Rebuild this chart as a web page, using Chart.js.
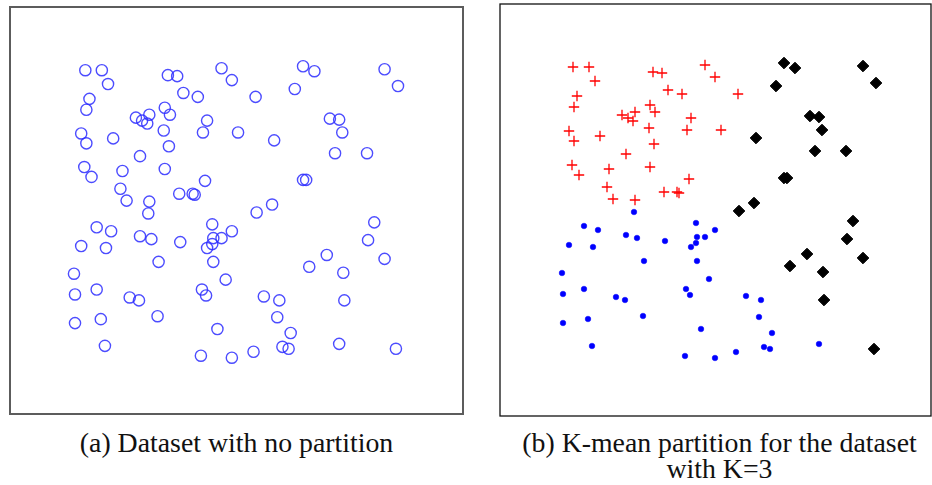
<!DOCTYPE html>
<html>
<head>
<meta charset="utf-8">
<script src="https://cdn.jsdelivr.net/npm/chart.js@4.4.1/dist/chart.umd.min.js"></script>
<style>
  html, body { margin: 0; padding: 0; background: #fff; }
  body { width: 932px; height: 485px; position: relative; overflow: hidden; }
  canvas { position: absolute; }
  .cap { position: absolute; font-family: "Liberation Serif", "DejaVu Serif", serif; font-size: 27.8px; color: #111; white-space: nowrap; text-align: center; line-height: 26px; }
</style>
</head>
<body>
<canvas id="plainChart" width="458" height="412" style="left:8px; top:5px;"></canvas>
<canvas id="kmeansChart" width="434" height="415" style="left:498px; top:2px;"></canvas>
<div class="cap" id="capA" style="left:10px; width:453px; top:430px;">(a) Dataset with no partition</div>
<div class="cap" id="capB" style="left:504px; width:431px; top:430px;">(b) K-mean partition for the dataset<br>with K=3</div>
<script>
// Cluster 1 (red crosses): upper-left group
const clusterRedX = [73, 89, 95, 153, 162, 205, 215, 77, 74, 168, 182, 150, 155, 135, 122, 128, 133, 191, 69, 74, 100, 149, 187, 221, 154, 126, 72, 79, 109, 150, 189, 107, 113, 135, 164, 177, 179, 238];
const clusterRedY = [349, 349, 335, 344, 343, 351, 339, 320, 309, 326, 322, 311, 304, 304, 301, 298, 295, 298, 285, 275, 280, 288, 286, 286, 272, 262, 251, 241, 247, 249, 237, 229, 217, 216, 224, 224, 223, 322];

// Cluster 2 (black diamonds): right-hand group
const clusterBlackX = [284, 295, 363, 376, 276, 310, 319, 322, 256, 315, 346, 284, 287, 254, 239, 353, 347, 307, 363, 290, 323, 324, 374];
const clusterBlackY = [353, 348, 350, 333, 330, 300, 299, 286, 278, 265, 265, 238, 238, 213, 205, 195, 177, 162, 158, 150, 144, 116, 67];

// Cluster 3 (blue dots): lower-left group
const clusterBlueX = [246, 261, 259, 272, 264, 270, 236, 319, 134, 84, 98, 126, 137, 165, 196, 215, 197, 205, 196, 191, 69, 93, 144, 197, 62, 209, 84, 63, 186, 190, 116, 125, 143, 63, 88, 201, 92, 185, 215];
const clusterBlueY = [120, 116, 99, 83, 69, 67, 64, 72, 204, 190, 186, 181, 178, 175, 193, 186, 179, 179, 173, 169, 171, 169, 155, 155, 143, 137, 127, 122, 127, 121, 119, 116, 100, 93, 97, 87, 70, 60, 58];

// Axis extents of the two panels
const plainRangeX = [0, 439];
const plainRangeY = [1, 413];
const kmeansRangeX = [0, 431];
const kmeansRangeY = [0, 412];

const toPoints = (xs, ys) => xs.map((x, i) => ({ x: x, y: ys[i] }));

const redPts = toPoints(clusterRedX, clusterRedY);
const blackPts = toPoints(clusterBlackX, clusterBlackY);
const bluePts = toPoints(clusterBlueX, clusterBlueY);
const allPts = redPts.concat(blackPts, bluePts);

// Draws the rectangular frame round the plotting area
function framePlugin(color, width) {
  return {
    id: 'frame',
    afterDraw(chart) {
      const a = chart.chartArea;
      const ctx = chart.ctx;
      ctx.save();
      ctx.strokeStyle = color;
      ctx.lineWidth = width;
      ctx.strokeRect(a.left, a.top, a.right - a.left, a.bottom - a.top);
      ctx.restore();
    }
  };
}

function baseOptions(rx, ry, pad) {
  return {
    responsive: false,
    animation: false,
    devicePixelRatio: 1,
    layout: { padding: pad, autoPadding: false },
    plugins: { legend: { display: false }, tooltip: { enabled: false } },
    scales: {
      x: { type: 'linear', display: false, min: rx[0], max: rx[1] },
      y: { type: 'linear', display: false, min: ry[0], max: ry[1] }
    }
  };
}

new Chart(document.getElementById('plainChart'), {
  type: 'scatter',
  data: {
    datasets: [{
      data: allPts,
      pointStyle: 'circle',
      pointRadius: 5.6,
      pointBorderWidth: 1.4,
      pointBorderColor: 'rgba(45,45,255,0.85)',
      pointBackgroundColor: 'rgba(0,0,0,0)'
    }]
  },
  options: baseOptions(plainRangeX, plainRangeY, { left: 2, right: 3, top: 2, bottom: 3 }),
  plugins: [framePlugin('#5c5c5c', 2)]
});

new Chart(document.getElementById('kmeansChart'), {
  type: 'scatter',
  data: {
    datasets: [
      {
        data: redPts,
        pointStyle: 'cross',
        pointRadius: 5.2,
        pointBorderWidth: 1.3,
        pointBorderColor: '#ff0000',
        pointBackgroundColor: '#ff0000'
      },
      {
        data: blackPts,
        pointStyle: 'rectRot',
        pointRadius: 5.8,
        pointBorderWidth: 1,
        pointBorderColor: '#000',
        pointBackgroundColor: '#000'
      },
      {
        data: bluePts,
        pointStyle: 'circle',
        pointRadius: 2.8,
        pointBorderWidth: 0.5,
        pointBorderColor: '#0000ff',
        pointBackgroundColor: '#0000ff'
      }
    ]
  },
  options: baseOptions(kmeansRangeX, kmeansRangeY, { left: 2, right: 1, top: 2, bottom: 1 }),
  plugins: [framePlugin('#111', 1.3)]
});
</script>
</body>
</html>
